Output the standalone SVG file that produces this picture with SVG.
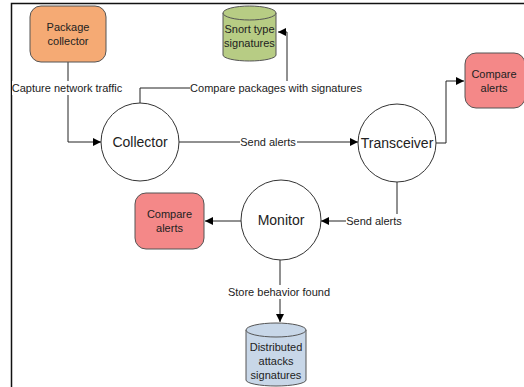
<svg xmlns="http://www.w3.org/2000/svg" width="524" height="387" viewBox="0 0 524 387">
<defs>
<marker id="ah" viewBox="0 0 10 10" refX="10" refY="5" markerWidth="8" markerHeight="8" markerUnits="userSpaceOnUse" orient="auto">
<path d="M0,0 L10,5 L0,10 z" fill="#000"/>
</marker>
</defs>
<style>
text{font-family:"Liberation Sans",Arial,sans-serif;font-size:11px;fill:#222;text-anchor:middle}
.c{fill:#fff;stroke:#333;stroke-width:1}
.e{fill:none;stroke:#333;stroke-width:1}
.lbl{fill:#fff}
.ln{fill:none;stroke:#222;stroke-width:1}
</style>
<rect x="0" y="0" width="524" height="387" fill="#fff"/>
<path d="M11.5,387 V3.5 H524" fill="none" stroke="#111" stroke-width="1.5"/>
<g id="connectors">
<path class="ln" d="M68,62 V142 H101" marker-end="url(#ah)"/>
<rect class="lbl" x="12" y="81" width="111" height="14"/>
<text x="67" y="92">Capture network traffic</text>
<path class="ln" d="M140,103 V88 H287 V32 H278" marker-end="url(#ah)"/>
<rect class="lbl" x="190" y="81" width="172" height="14"/>
<text x="276" y="92">Compare packages with signatures</text>
<path class="ln" d="M179,142 H358" marker-end="url(#ah)"/>
<rect class="lbl" x="240" y="135" width="57" height="14"/>
<text x="268" y="146">Send alerts</text>
<path class="ln" d="M436,143 H446 V81 H464" marker-end="url(#ah)"/>
<path class="ln" d="M397,182 V221 H321" marker-end="url(#ah)"/>
<rect class="lbl" x="346" y="214" width="57" height="14"/>
<text x="374" y="225">Send alerts</text>
<path class="ln" d="M241,221 H205" marker-end="url(#ah)"/>
<path class="ln" d="M280,260 V322" marker-end="url(#ah)"/>
<rect class="lbl" x="227" y="285" width="104" height="14"/>
<text x="279" y="296">Store behavior found</text>
</g>
<g id="package-collector">
<rect x="30" y="6" width="76" height="56" rx="11" fill="#f5aa74" stroke="#555"/>
<text x="68" y="31">Package</text>
<text x="68" y="45">collector</text>
</g>
<g id="snort-signatures">
<path d="M223,13 V55 A26.5,6 0 0 0 276,55 V13" fill="#b7cc84" stroke="#555"/>
<ellipse cx="249.5" cy="13" rx="26.5" ry="7" fill="#b7cc84" stroke="#555"/>
<text x="249.5" y="33">Snort type</text>
<text x="249.5" y="47">signatures</text>
</g>
<g id="collector">
<circle class="c" cx="140" cy="142" r="39"/>
<text x="140" y="147" style="font-size:14px">Collector</text>
</g>
<g id="transceiver">
<circle class="c" cx="397" cy="143" r="39"/>
<text x="397" y="148" style="font-size:14px">Transceiver</text>
</g>
<g id="compare-alerts-right">
<rect x="465" y="53" width="60" height="55" rx="11" fill="#f48888" stroke="#555"/>
<text x="494" y="78">Compare</text>
<text x="494" y="92">alerts</text>
</g>
<g id="monitor">
<circle class="c" cx="281" cy="220" r="40"/>
<text x="281" y="225" style="font-size:14px">Monitor</text>
</g>
<g id="compare-alerts-left">
<rect x="135" y="193" width="69" height="56" rx="11" fill="#f48888" stroke="#555"/>
<text x="169.5" y="218">Compare</text>
<text x="169.5" y="232">alerts</text>
</g>
<g id="distributed-signatures">
<path d="M246,330 V380 A30,6 0 0 0 306,380 V330" fill="#c8d7e8" stroke="#555"/>
<ellipse cx="276" cy="330" rx="30" ry="7" fill="#c8d7e8" stroke="#555"/>
<text x="276" y="351">Distributed</text>
<text x="276" y="365">attacks</text>
<text x="276" y="379">signatures</text>
</g>
</svg>
